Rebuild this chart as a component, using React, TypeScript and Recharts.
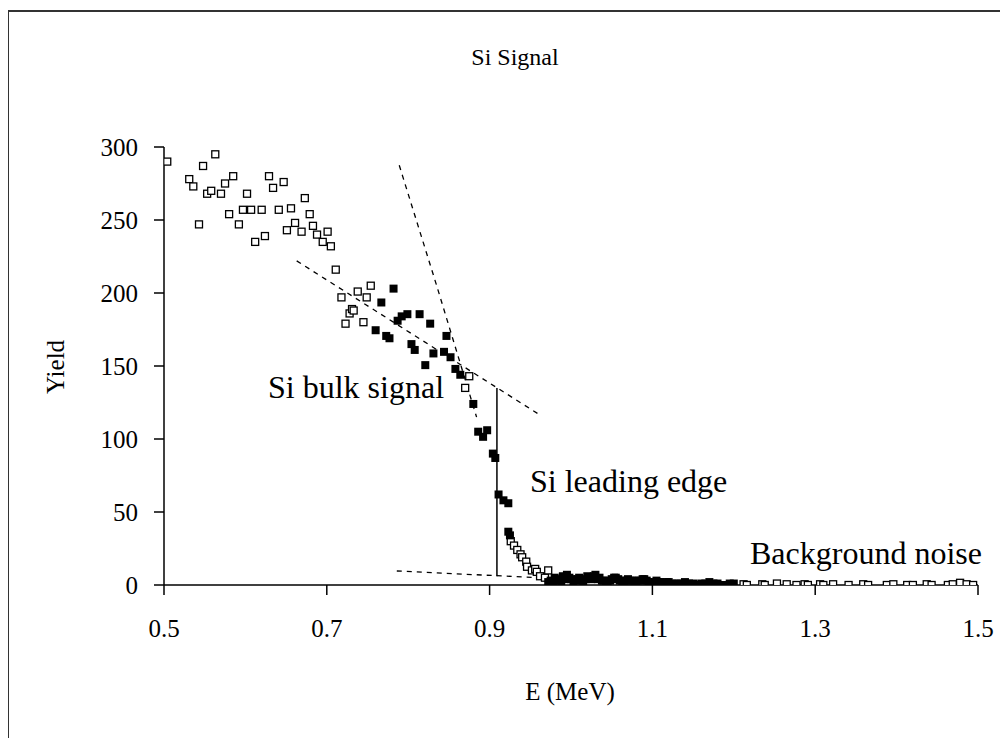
import React from 'react';
import { ScatterChart, Scatter, XAxis, YAxis } from 'recharts';

// Si signal RBS spectrum: open vs filled squares, with tangent construction lines
const xTicks = [0.5, 0.7, 0.9, 1.1, 1.3, 1.5];
const yTicks = [0, 50, 100, 150, 200, 250, 300];

const openPoints: [number, number][] = [
  [0.504, 290], [0.531, 278], [0.536, 273], [0.543, 247], [0.548, 287], [0.553, 268],
  [0.558, 270], [0.563, 295], [0.570, 268], [0.575, 275], [0.580, 254], [0.585, 280],
  [0.592, 247], [0.597, 257], [0.602, 268], [0.607, 257], [0.612, 235], [0.620, 257],
  [0.624, 239], [0.629, 280], [0.634, 272], [0.641, 257], [0.647, 276], [0.651, 243],
  [0.656, 258], [0.661, 248], [0.669, 242], [0.673, 265], [0.679, 254], [0.683, 246],
  [0.688, 240], [0.695, 235], [0.701, 242], [0.705, 232], [0.711, 216], [0.718, 197],
  [0.723, 179], [0.728, 186], [0.731, 189], [0.733, 188], [0.738, 201], [0.745, 180],
  [0.749, 197], [0.754, 205],
  [0.870, 135], [0.875, 143],
  [0.926, 30], [0.930, 27], [0.934, 24], [0.938, 21], [0.940, 19], [0.945, 16],
  [0.946, 12.5], [0.952, 10], [0.956, 11], [0.958, 9], [0.962, 6], [0.968, 5], [0.972, 10],
  [1.212, 0.5], [1.216, 0], [1.235, 0.5], [1.238, 0], [1.253, 1], [1.265, 0.5], [1.277, 0],
  [1.287, 0.5], [1.291, 0], [1.306, 0.5], [1.310, 0], [1.322, 0.5], [1.341, 0], [1.359, 0.5],
  [1.365, 0], [1.388, 0], [1.396, 0.5], [1.413, 0], [1.420, 0], [1.437, 0.5], [1.443, 0],
  [1.463, 0], [1.469, 0.5], [1.478, 1.5], [1.486, 0.5], [1.494, 0],
];

const filledPoints: [number, number][] = [
  [0.760, 174.5], [0.767, 193.5], [0.773, 170.6], [0.777, 169], [0.782, 203], [0.787, 181],
  [0.792, 184], [0.799, 185.5], [0.804, 165], [0.808, 161], [0.814, 185.5], [0.821, 150.6],
  [0.827, 179], [0.831, 158.6], [0.844, 159.7], [0.847, 170.6], [0.852, 156], [0.858, 148],
  [0.864, 144], [0.880, 124], [0.886, 105], [0.892, 101.5], [0.897, 106], [0.904, 90],
  [0.907, 87], [0.911, 62], [0.917, 58], [0.923, 56], [0.923, 36.5], [0.925, 34],
  [0.972, 2], [0.975, 3], [0.978, 2], [0.980, 5], [0.983, 3], [0.985, 4], [0.988, 2],
  [0.990, 6], [0.993, 4], [0.995, 7], [0.998, 5], [1.000, 4], [1.003, 2], [1.005, 3],
  [1.008, 4], [1.010, 5], [1.013, 3], [1.015, 2], [1.018, 4], [1.020, 6], [1.023, 5],
  [1.025, 4], [1.028, 6], [1.030, 7], [1.033, 4], [1.035, 5], [1.038, 3], [1.040, 3],
  [1.043, 2], [1.045, 2], [1.048, 3], [1.050, 4], [1.053, 5], [1.055, 5], [1.058, 4],
  [1.060, 3], [1.063, 2], [1.065, 2], [1.068, 3], [1.070, 4], [1.073, 3], [1.075, 3],
  [1.078, 2], [1.080, 2], [1.083, 3], [1.085, 3], [1.088, 4], [1.090, 4], [1.093, 3],
  [1.095, 2], [1.098, 1], [1.100, 1], [1.103, 2], [1.105, 3], [1.108, 2], [1.110, 2],
  [1.113, 1], [1.115, 1], [1.118, 2], [1.120, 2], [1.125, 1], [1.130, 1], [1.135, 1],
  [1.140, 2], [1.145, 1], [1.150, 1], [1.155, 0], [1.160, 1], [1.165, 1], [1.170, 2],
  [1.175, 1], [1.180, 1], [1.185, 0], [1.190, 0], [1.195, 1], [1.200, 1],
];

const steepTangent: [number, number][] = [[0.789, 287.5], [0.835, 205], [0.884, 115]];
const shallowTangent: [number, number][] = [[0.663, 222], [0.962, 116.4]];
const baseline: [number, number][] = [[0.786, 9.6], [0.968, 4.8]];
const edgeMarker: [number, number][] = [[0.909, 6], [0.909, 135]];

const toXY = (pts: [number, number][]) => pts.map(([x, y]) => ({ x, y }));

const OpenSquare = (props: any) => (
  <rect x={props.cx - 3.5} y={props.cy - 3.5} width={7} height={7} fill="#fff" stroke="#000" strokeWidth={1.3} />
);
const FilledSquare = (props: any) => (
  <rect x={props.cx - 4} y={props.cy - 4} width={8} height={8} fill="#000" />
);
const NoShape = () => null;

const serif = '"Liberation Serif", "Times New Roman", serif';
const tickStyle = { fill: '#000', fontSize: 25, fontFamily: serif };
const dashed = { stroke: '#000', strokeWidth: 1.3, strokeDasharray: '5 5' };

export default function App() {
  return (
    <div style={{ position: 'relative', width: 1000, height: 730, background: '#fff', overflow: 'hidden' }}>
      <div
        style={{
          position: 'absolute', left: -1, top: 2, width: 1010, height: 740,
          borderLeft: '2px solid #333', borderTop: '2px solid #333',
        }}
      />
      <ScatterChart width={1000} height={730} margin={{ top: 139, right: 30, bottom: 93, left: 86 }}>
        <XAxis
          type="number"
          dataKey="x"
          domain={[0.5, 1.5]}
          ticks={xTicks}
          tickFormatter={(v: number) => v.toFixed(1)}
          height={60}
          tickSize={10}
          tickMargin={24}
          stroke="#000"
          strokeWidth={1.5}
          tick={tickStyle}
          allowDataOverflow
        />
        <YAxis
          type="number"
          dataKey="y"
          domain={[0, 300]}
          ticks={yTicks}
          width={70}
          tickSize={10}
          tickMargin={16}
          stroke="#000"
          strokeWidth={1.5}
          tick={tickStyle}
          allowDataOverflow
        />
        <Scatter data={toXY(steepTangent)} line={dashed} shape={NoShape} isAnimationActive={false} />
        <Scatter data={toXY(shallowTangent)} line={dashed} shape={NoShape} isAnimationActive={false} />
        <Scatter data={toXY(baseline)} line={dashed} shape={NoShape} isAnimationActive={false} />
        <Scatter data={toXY(edgeMarker)} line={{ stroke: '#000', strokeWidth: 1.5 }} shape={NoShape} isAnimationActive={false} />
        <Scatter data={toXY(openPoints)} shape={OpenSquare} isAnimationActive={false} />
        <Scatter data={toXY(filledPoints)} shape={FilledSquare} isAnimationActive={false} />
      </ScatterChart>
      <div style={{ position: 'absolute', left: 507, top: 49, transform: 'translate(-50%, -50%)', fontFamily: serif, fontSize: 24, whiteSpace: 'nowrap' }}>
        Si Signal
      </div>
      <div style={{ position: 'absolute', left: 48, top: 359, transform: 'translate(-50%, -50%) rotate(-90deg)', fontFamily: serif, fontSize: 25 }}>
        Yield
      </div>
      <div style={{ position: 'absolute', left: 562, top: 684, transform: 'translate(-50%, -50%)', fontFamily: serif, fontSize: 25, whiteSpace: 'nowrap' }}>
        E (MeV)
      </div>
      <div style={{ position: 'absolute', left: 260, top: 361, fontFamily: serif, fontSize: 32, whiteSpace: 'nowrap' }}>
        Si bulk signal
      </div>
      <div style={{ position: 'absolute', left: 522, top: 455, fontFamily: serif, fontSize: 32, whiteSpace: 'nowrap' }}>
        Si leading edge
      </div>
      <div style={{ position: 'absolute', left: 742, top: 527, fontFamily: serif, fontSize: 32, whiteSpace: 'nowrap' }}>
        Background noise
      </div>
    </div>
  );
}
